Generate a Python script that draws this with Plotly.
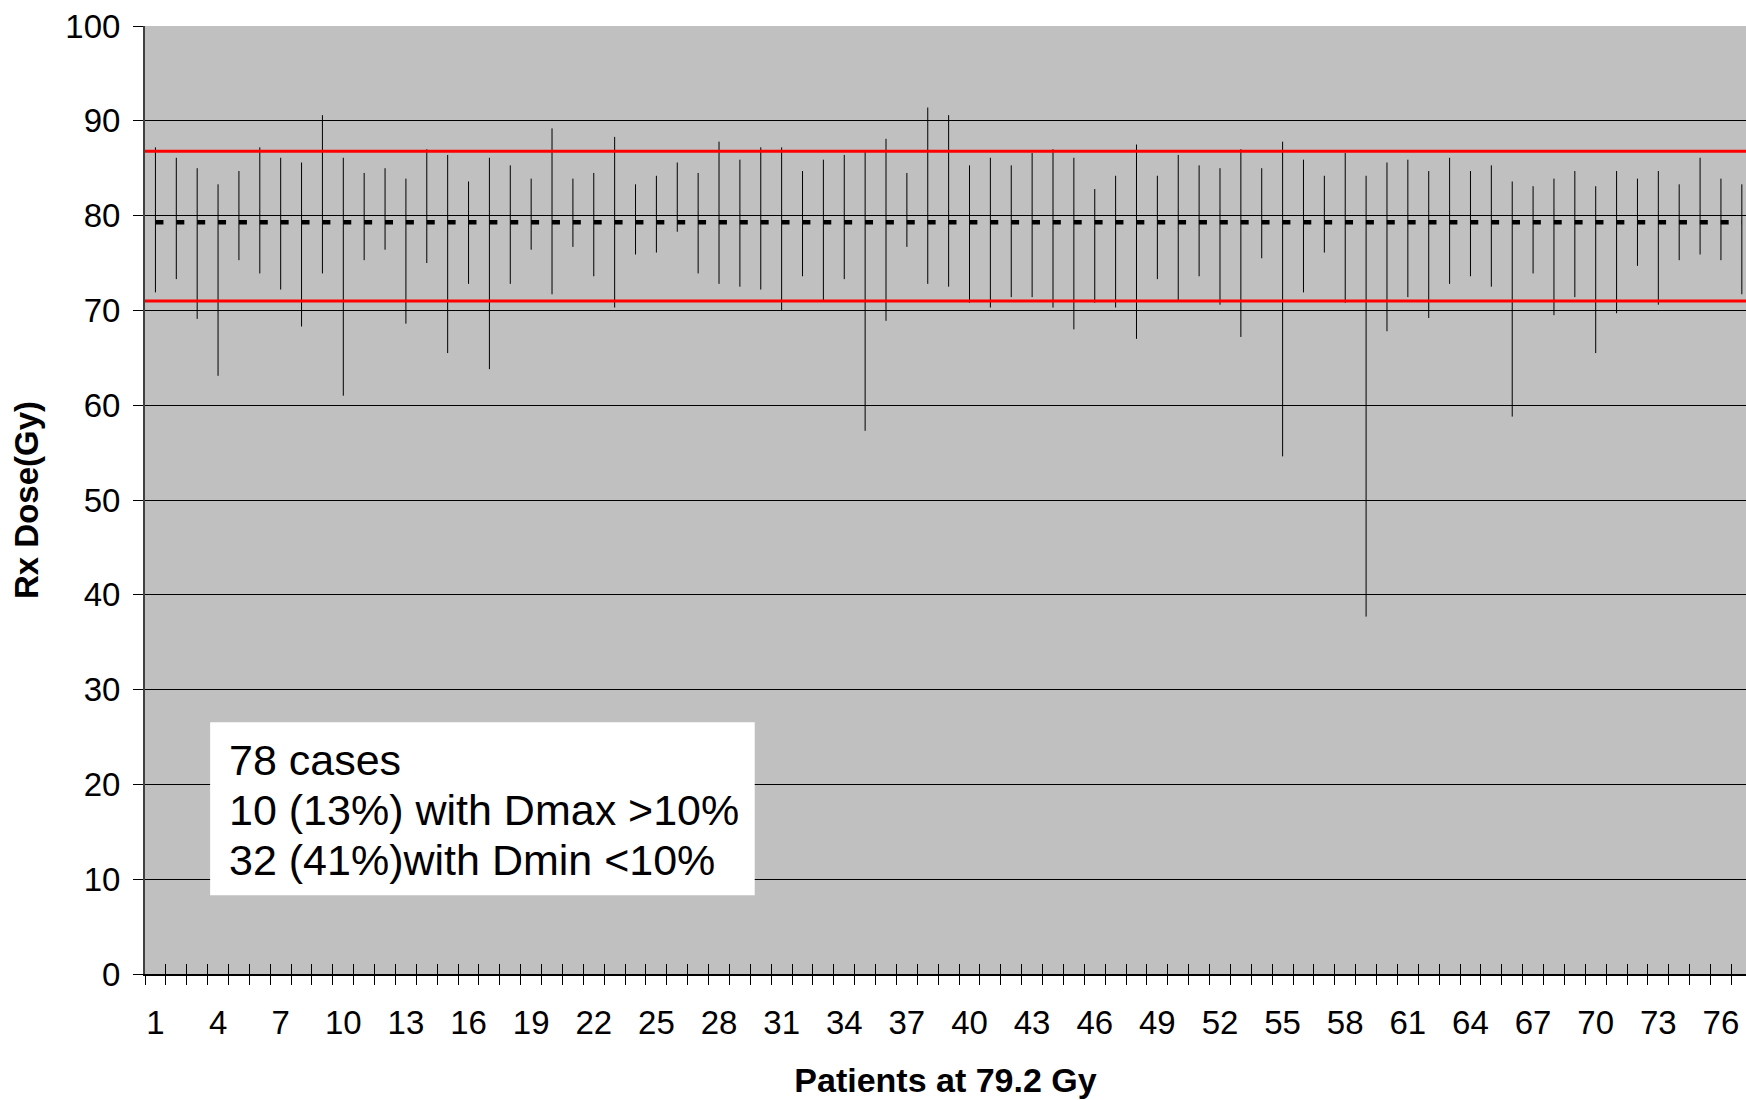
import plotly.graph_objects as go

# ---------------- data ----------------
patients = list(range(1, 78))  # 78 cases; the 78th lies beyond the visible frame

dose_max = [87.2, 86.1, 85.0, 83.3, 84.7, 87.2, 86.1, 85.6, 90.6, 86.1, 84.5, 85.0, 83.9, 87.0,
            86.4, 83.6, 86.1, 85.3, 83.9, 89.2, 83.9, 84.5, 88.3, 83.3, 84.2, 85.6, 84.5, 87.8,
            85.9, 87.2, 87.2, 84.7, 85.9, 86.4, 86.7, 88.1, 84.5, 91.4, 90.6, 85.3, 86.1, 85.3,
            86.6, 87.0, 86.1, 82.8, 84.2, 87.5, 84.2, 86.4, 85.3, 85.0, 87.0, 85.0, 87.8, 85.9,
            84.2, 86.6, 84.2, 85.6, 85.9, 84.7, 86.1, 84.7, 85.3, 83.6,
            83.1, 83.9, 84.7, 83.1, 84.7, 83.9, 84.7, 83.3, 86.1, 83.9, 83.3]

dose_min = [71.9, 73.3, 69.1, 63.1, 75.3, 73.9, 72.2, 68.3, 73.9, 61.0, 75.3, 76.4, 68.6, 75.0,
            65.5, 72.8, 63.8, 72.8, 76.4, 71.7, 76.7, 73.6, 70.3, 75.9, 76.1, 78.3, 73.9, 72.8,
            72.5, 72.2, 70.0, 73.6, 71.1, 73.3, 57.3, 68.9, 76.7, 72.8, 72.5, 70.8, 70.3, 71.4,
            71.4, 70.3, 68.0, 70.8, 70.3, 67.0, 73.3, 71.1, 73.6, 70.6, 67.2, 75.5, 54.6, 71.9,
            76.1, 70.8, 37.7, 67.8, 71.4, 69.2, 72.8, 73.6, 72.5, 58.8,
            73.9, 69.5, 71.4, 65.5, 69.7, 74.7, 70.6, 75.3, 75.9, 75.3, 71.7]

RX_DOSE = 79.3       # dotted prescription line
UPPER_LIMIT = 86.8   # red line (+10 %)
LOWER_LIMIT = 71.0   # red line (-10 %)

x_label_vals = list(range(1, 78, 3))
x_label_text = [str(v) for v in x_label_vals]
y_tick_vals = list(range(0, 101, 10))

box_lines = ["78 cases", "10 (13%) with Dmax >10%", "32 (41%)with Dmin <10%"]

# ---------------- layout constants ----------------
W, H = 1746, 1100
ML, MR, MT, MB = 145, 0, 26, 126
X_RANGE = [0.5, 77.2]
FONT = "Liberation Sans, Arial, sans-serif"
px_per_unit = (W - ML - MR) / (X_RANGE[1] - X_RANGE[0])
dash_len = 8
dash_pattern = f"{dash_len}px,{px_per_unit - dash_len:.2f}px"
boundaries = [p - 0.5 for p in patients] + [patients[-1] + 0.5]

# ---------------- traces ----------------
seg_x, seg_y = [], []
for p, lo, hi in zip(patients, dose_min, dose_max):
    seg_x += [p, p, None]
    seg_y += [lo, hi, None]

fig = go.Figure()
fig.add_trace(go.Scatter(x=seg_x, y=seg_y, mode="lines",
                         line=dict(color="black", width=1),
                         hoverinfo="skip", showlegend=False))
fig.add_trace(go.Scatter(x=patients, y=[RX_DOSE] * len(patients), mode="lines",
                         line=dict(color="black", width=4.5, dash=dash_pattern),
                         hoverinfo="skip", showlegend=False))
# invisible traces to carry the overlay tick axes
fig.add_trace(go.Scatter(x=[None], y=[None], xaxis="x2", yaxis="y", showlegend=False, hoverinfo="skip"))
fig.add_trace(go.Scatter(x=[None], y=[None], xaxis="x3", yaxis="y", showlegend=False, hoverinfo="skip"))

# ---------------- shapes ----------------
for lvl in (UPPER_LIMIT, LOWER_LIMIT):
    fig.add_shape(type="line", xref="paper", yref="y", x0=0, x1=1, y0=lvl, y1=lvl,
                  line=dict(color="#FF0000", width=3), layer="above")

fig.add_shape(type="rect", xref="x", yref="y", x0=3.62, x1=29.71, y0=8.3, y1=26.55,
              fillcolor="white", line=dict(width=0), layer="above")

for txt, yy in zip(box_lines, [22.6, 17.3, 12.05]):
    fig.add_annotation(text=txt, x=4.45, y=yy, xref="x", yref="y", xanchor="left",
                       yanchor="middle", showarrow=False,
                       font=dict(family=FONT, size=43, color="black"))

# ---------------- axes ----------------
common_x = dict(range=X_RANGE, showgrid=False, zeroline=False, fixedrange=True)
fig.update_layout(
    width=W, height=H,
    margin=dict(l=ML, r=MR, t=MT, b=MB),
    paper_bgcolor="white", plot_bgcolor="#C0C0C0",
    font=dict(family=FONT, size=33, color="black"),
    showlegend=False,
    xaxis=dict(**common_x, tickmode="array", tickvals=x_label_vals, ticktext=x_label_text,
               ticks="", showline=True, linecolor="black", linewidth=2,
               tickfont=dict(size=33), ticklabelstandoff=18,
               title=dict(text="<b>Patients at 79.2 Gy</b>", font=dict(size=34), standoff=29)),
    xaxis2=dict(**common_x, overlaying="x", anchor="y", side="bottom",
                tickmode="array", tickvals=boundaries, ticks="outside", ticklen=10,
                tickwidth=1, tickcolor="black", showticklabels=False, showline=False),
    xaxis3=dict(**common_x, overlaying="x", anchor="y", side="bottom",
                tickmode="array", tickvals=boundaries, ticks="inside", ticklen=10,
                tickwidth=1, tickcolor="black", showticklabels=False, showline=False),
    yaxis=dict(range=[0, 100], tickmode="array", tickvals=y_tick_vals,
               showgrid=True, gridcolor="black", gridwidth=1, zeroline=False,
               ticks="outside", ticklen=10, tickcolor="black", tickwidth=1,
               showline=True, linecolor="#404040", linewidth=2,
               tickfont=dict(size=33), ticklabelstandoff=6, fixedrange=True,
               title=dict(text="<b>Rx Dose(Gy)</b>", font=dict(size=33), standoff=17)),
)

fig.write_html("out.html")
